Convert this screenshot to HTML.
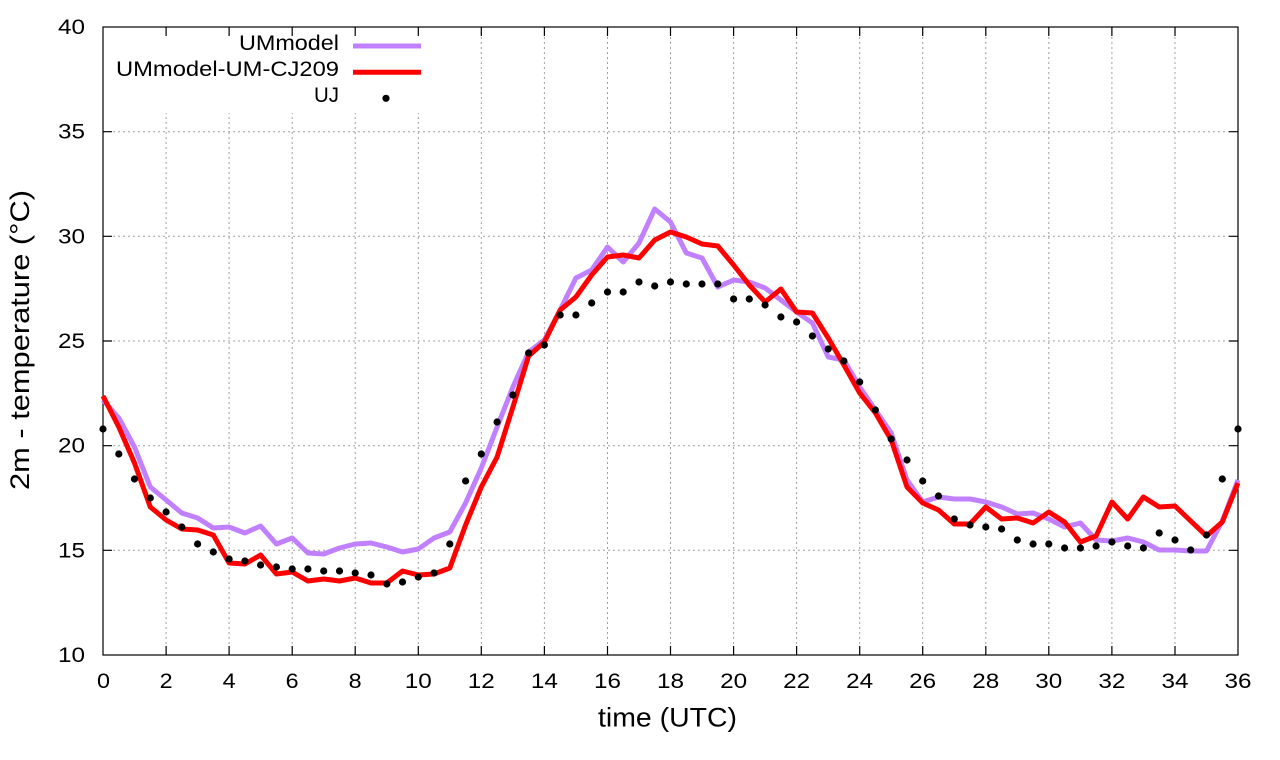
<!DOCTYPE html>
<html>
<head>
<meta charset="utf-8">
<style>
html,body{margin:0;padding:0;background:#fff;}
svg{display:block;}
text{font-family:"Liberation Sans",Arial,sans-serif;fill:#000;}
</style>
</head>
<body>
<svg width="1280" height="760" viewBox="0 0 1280 760" xmlns="http://www.w3.org/2000/svg">
<rect x="0" y="0" width="1280" height="760" fill="#fff"/>
<!-- grid -->
<g stroke="#a0a0a0" stroke-width="1" stroke-dasharray="2,3" fill="none">
<line x1="166.1" y1="27" x2="166.1" y2="655"/>
<line x1="229.1" y1="27" x2="229.1" y2="655"/>
<line x1="292.2" y1="27" x2="292.2" y2="655"/>
<line x1="355.2" y1="27" x2="355.2" y2="655"/>
<line x1="418.3" y1="27" x2="418.3" y2="655"/>
<line x1="481.3" y1="27" x2="481.3" y2="655"/>
<line x1="544.4" y1="27" x2="544.4" y2="655"/>
<line x1="607.5" y1="27" x2="607.5" y2="655"/>
<line x1="670.5" y1="27" x2="670.5" y2="655"/>
<line x1="733.6" y1="27" x2="733.6" y2="655"/>
<line x1="796.6" y1="27" x2="796.6" y2="655"/>
<line x1="859.7" y1="27" x2="859.7" y2="655"/>
<line x1="922.7" y1="27" x2="922.7" y2="655"/>
<line x1="985.8" y1="27" x2="985.8" y2="655"/>
<line x1="1048.8" y1="27" x2="1048.8" y2="655"/>
<line x1="1111.9" y1="27" x2="1111.9" y2="655"/>
<line x1="1175" y1="27" x2="1175" y2="655"/>
<line x1="103" y1="550.3" x2="1238" y2="550.3"/>
<line x1="103" y1="445.7" x2="1238" y2="445.7"/>
<line x1="103" y1="341" x2="1238" y2="341"/>
<line x1="103" y1="236.3" x2="1238" y2="236.3"/>
<line x1="103" y1="131.7" x2="1238" y2="131.7"/>
</g>
<!-- legend box background -->
<rect x="104" y="28" width="322" height="85" fill="#fff"/>
<!-- frame and ticks -->
<g stroke="#000" stroke-width="1.2" fill="none">
<rect x="103" y="27" width="1135" height="628"/>
<path d="M103 550.3h9M103 445.7h9M103 341h9M103 236.3h9M103 131.7h9
M1238 550.3h-9M1238 445.7h-9M1238 341h-9M1238 236.3h-9M1238 131.7h-9
M166.1 655v-9M229.1 655v-9M292.2 655v-9M355.2 655v-9M418.3 655v-9M481.3 655v-9M544.4 655v-9M607.5 655v-9M670.5 655v-9M733.6 655v-9M796.6 655v-9M859.7 655v-9M922.7 655v-9M985.8 655v-9M1048.8 655v-9M1111.9 655v-9M1175 655v-9
M166.1 27v9M229.1 27v9M292.2 27v9M355.2 27v9M418.3 27v9M481.3 27v9M544.4 27v9M607.5 27v9M670.5 27v9M733.6 27v9M796.6 27v9M859.7 27v9M922.7 27v9M985.8 27v9M1048.8 27v9M1111.9 27v9M1175 27v9"/>
</g>
<!-- y tick labels -->
<g font-size="21" text-anchor="end">
<text x="85" y="662" textLength="27" lengthAdjust="spacingAndGlyphs">10</text>
<text x="85" y="557.5" textLength="27" lengthAdjust="spacingAndGlyphs">15</text>
<text x="85" y="452.7" textLength="27" lengthAdjust="spacingAndGlyphs">20</text>
<text x="85" y="348" textLength="27" lengthAdjust="spacingAndGlyphs">25</text>
<text x="85" y="243.3" textLength="27" lengthAdjust="spacingAndGlyphs">30</text>
<text x="85" y="138.7" textLength="27" lengthAdjust="spacingAndGlyphs">35</text>
<text x="85" y="34" textLength="27" lengthAdjust="spacingAndGlyphs">40</text>
</g>
<!-- x tick labels -->
<g font-size="21" text-anchor="middle">
<text x="103.5" y="688" textLength="13" lengthAdjust="spacingAndGlyphs">0</text>
<text x="166.1" y="688" textLength="13" lengthAdjust="spacingAndGlyphs">2</text>
<text x="229.1" y="688" textLength="13" lengthAdjust="spacingAndGlyphs">4</text>
<text x="292.2" y="688" textLength="13" lengthAdjust="spacingAndGlyphs">6</text>
<text x="355.2" y="688" textLength="13" lengthAdjust="spacingAndGlyphs">8</text>
<text x="418.3" y="688" textLength="27" lengthAdjust="spacingAndGlyphs">10</text>
<text x="481.3" y="688" textLength="27" lengthAdjust="spacingAndGlyphs">12</text>
<text x="544.4" y="688" textLength="27" lengthAdjust="spacingAndGlyphs">14</text>
<text x="607.5" y="688" textLength="27" lengthAdjust="spacingAndGlyphs">16</text>
<text x="670.5" y="688" textLength="27" lengthAdjust="spacingAndGlyphs">18</text>
<text x="733.6" y="688" textLength="27" lengthAdjust="spacingAndGlyphs">20</text>
<text x="796.6" y="688" textLength="27" lengthAdjust="spacingAndGlyphs">22</text>
<text x="859.7" y="688" textLength="27" lengthAdjust="spacingAndGlyphs">24</text>
<text x="922.7" y="688" textLength="27" lengthAdjust="spacingAndGlyphs">26</text>
<text x="985.8" y="688" textLength="27" lengthAdjust="spacingAndGlyphs">28</text>
<text x="1048.8" y="688" textLength="27" lengthAdjust="spacingAndGlyphs">30</text>
<text x="1111.9" y="688" textLength="27" lengthAdjust="spacingAndGlyphs">32</text>
<text x="1175" y="688" textLength="27" lengthAdjust="spacingAndGlyphs">34</text>
<text x="1238" y="688" textLength="27" lengthAdjust="spacingAndGlyphs">36</text>
</g>
<!-- axis titles -->
<text x="667.5" y="726.5" font-size="26.5" text-anchor="middle" textLength="139" lengthAdjust="spacingAndGlyphs">time (UTC)</text>
<text transform="translate(29,340) rotate(-90)" x="0" y="0" font-size="27" text-anchor="middle" textLength="300" lengthAdjust="spacingAndGlyphs">2m - temperature (°C)</text>
<!-- UMmodel series -->
<polyline fill="none" stroke="#c080ff" stroke-width="5" stroke-linejoin="round" stroke-linecap="butt" points="
103,400 118.8,418 134.5,447 150.3,487 166.1,500 181.8,513 197.6,518 213.3,528 229.1,527 244.9,533 260.6,526 276.4,544 292.2,538 307.9,553 323.7,554 339.5,548 355.2,544 371,543 386.8,547 402.5,552 418.3,549 434,538 449.8,532 465.6,503 481.3,468 497.1,427 512.9,387 528.6,352 544.4,340 560.2,310 575.9,278 591.7,270 607.5,247 623.2,262 639,243 654.7,209 670.5,222 686.3,253 702,258 717.8,287 733.6,280 749.3,282 765.1,288 780.9,300 796.6,312 812.4,323 828.2,357 843.9,360 859.7,387 875.4,410 891.2,433 907,480 922.7,502 938.5,497 954.3,499 970,499 985.8,502 1001.6,507 1017.3,514 1033.1,513 1048.8,519 1064.6,527 1080.4,523 1096.1,540 1111.9,541 1127.7,538 1143.4,542 1159.2,550 1175,550 1190.7,551 1206.5,551 1222.3,521 1238,480"/>
<!-- UMmodel-UM-CJ209 series -->
<polyline fill="none" stroke="#ff0000" stroke-width="5" stroke-linejoin="round" stroke-linecap="butt" points="
103,396 118.8,427 134.5,463 150.3,507 166.1,520 181.8,529 197.6,530 213.3,535 229.1,563 244.9,564 260.6,555 276.4,574 292.2,572 307.9,581 323.7,579 339.5,581 355.2,578 371,583 386.8,583 402.5,571 418.3,575 434,574 449.8,568 465.6,525 481.3,487 497.1,457 512.9,407 528.6,356 544.4,342 560.2,310 575.9,297 591.7,275 607.5,257 623.2,255 639,258 654.7,240 670.5,232 686.3,237 702,244 717.8,246 733.6,265 749.3,285 765.1,302 780.9,289 796.6,312 812.4,313 828.2,338 843.9,365 859.7,393 875.4,413 891.2,440 907,487 922.7,503 938.5,510 954.3,524 970,524 985.8,507 1001.6,519 1017.3,518 1033.1,523 1048.8,512 1064.6,522 1080.4,542 1096.1,536 1111.9,502 1127.7,519 1143.4,497 1159.2,507 1175,506 1190.7,521 1206.5,536 1222.3,522 1238,483"/>
<!-- UJ points -->
<g fill="#000">
<circle cx="103" cy="429" r="3.6"/><circle cx="118.8" cy="454" r="3.6"/><circle cx="134.5" cy="479" r="3.6"/><circle cx="150.3" cy="498" r="3.6"/><circle cx="166.1" cy="512" r="3.6"/><circle cx="181.8" cy="527" r="3.6"/><circle cx="197.6" cy="544" r="3.6"/><circle cx="213.3" cy="552" r="3.6"/><circle cx="229.1" cy="559" r="3.6"/><circle cx="244.9" cy="561" r="3.6"/><circle cx="260.6" cy="565" r="3.6"/><circle cx="276.4" cy="567" r="3.6"/><circle cx="292.2" cy="569" r="3.6"/><circle cx="307.9" cy="569" r="3.6"/><circle cx="323.7" cy="571" r="3.6"/><circle cx="339.5" cy="571" r="3.6"/><circle cx="355.2" cy="573" r="3.6"/><circle cx="371" cy="575" r="3.6"/><circle cx="386.8" cy="584" r="3.6"/><circle cx="402.5" cy="582" r="3.6"/><circle cx="418.3" cy="577" r="3.6"/><circle cx="434" cy="573" r="3.6"/><circle cx="449.8" cy="544" r="3.6"/><circle cx="465.6" cy="481" r="3.6"/><circle cx="481.3" cy="454" r="3.6"/><circle cx="497.1" cy="422" r="3.6"/><circle cx="512.9" cy="395" r="3.6"/><circle cx="528.6" cy="353" r="3.6"/><circle cx="544.4" cy="345" r="3.6"/><circle cx="560.2" cy="315" r="3.6"/><circle cx="575.9" cy="315" r="3.6"/><circle cx="591.7" cy="303" r="3.6"/><circle cx="607.5" cy="292" r="3.6"/><circle cx="623.2" cy="292" r="3.6"/><circle cx="639" cy="282" r="3.6"/><circle cx="654.7" cy="286" r="3.6"/><circle cx="670.5" cy="282" r="3.6"/><circle cx="686.3" cy="284" r="3.6"/><circle cx="702" cy="284" r="3.6"/><circle cx="717.8" cy="284" r="3.6"/><circle cx="733.6" cy="299" r="3.6"/><circle cx="749.3" cy="299" r="3.6"/><circle cx="765.1" cy="305" r="3.6"/><circle cx="780.9" cy="317" r="3.6"/><circle cx="796.6" cy="322" r="3.6"/><circle cx="812.4" cy="336" r="3.6"/><circle cx="828.2" cy="349" r="3.6"/><circle cx="843.9" cy="361" r="3.6"/><circle cx="859.7" cy="382" r="3.6"/><circle cx="875.4" cy="410" r="3.6"/><circle cx="891.2" cy="439" r="3.6"/><circle cx="907" cy="460" r="3.6"/><circle cx="922.7" cy="481" r="3.6"/><circle cx="938.5" cy="496" r="3.6"/><circle cx="954.3" cy="519" r="3.6"/><circle cx="970" cy="525" r="3.6"/><circle cx="985.8" cy="527" r="3.6"/><circle cx="1001.6" cy="529" r="3.6"/><circle cx="1017.3" cy="540" r="3.6"/><circle cx="1033.1" cy="544" r="3.6"/><circle cx="1048.8" cy="544" r="3.6"/><circle cx="1064.6" cy="548" r="3.6"/><circle cx="1080.4" cy="548" r="3.6"/><circle cx="1096.1" cy="546" r="3.6"/><circle cx="1111.9" cy="542" r="3.6"/><circle cx="1127.7" cy="546" r="3.6"/><circle cx="1143.4" cy="548" r="3.6"/><circle cx="1159.2" cy="533" r="3.6"/><circle cx="1175" cy="540" r="3.6"/><circle cx="1190.7" cy="550" r="3.6"/><circle cx="1206.5" cy="535" r="3.6"/><circle cx="1222.3" cy="479" r="3.6"/><circle cx="1238" cy="429" r="3.6"/>
</g>
<!-- legend -->
<g font-size="21" text-anchor="end">
<text x="339" y="50" textLength="100" lengthAdjust="spacingAndGlyphs">UMmodel</text>
<text x="339" y="76" textLength="223" lengthAdjust="spacingAndGlyphs">UMmodel-UM-CJ209</text>
<text x="339" y="102" textLength="25" lengthAdjust="spacingAndGlyphs">UJ</text>
</g>
<line x1="353" y1="46" x2="421" y2="46" stroke="#c080ff" stroke-width="5"/>
<line x1="353" y1="72.3" x2="421" y2="72.3" stroke="#ff0000" stroke-width="5"/>
<circle cx="386" cy="98.3" r="3.6" fill="#000"/>
</svg>
</body>
</html>
